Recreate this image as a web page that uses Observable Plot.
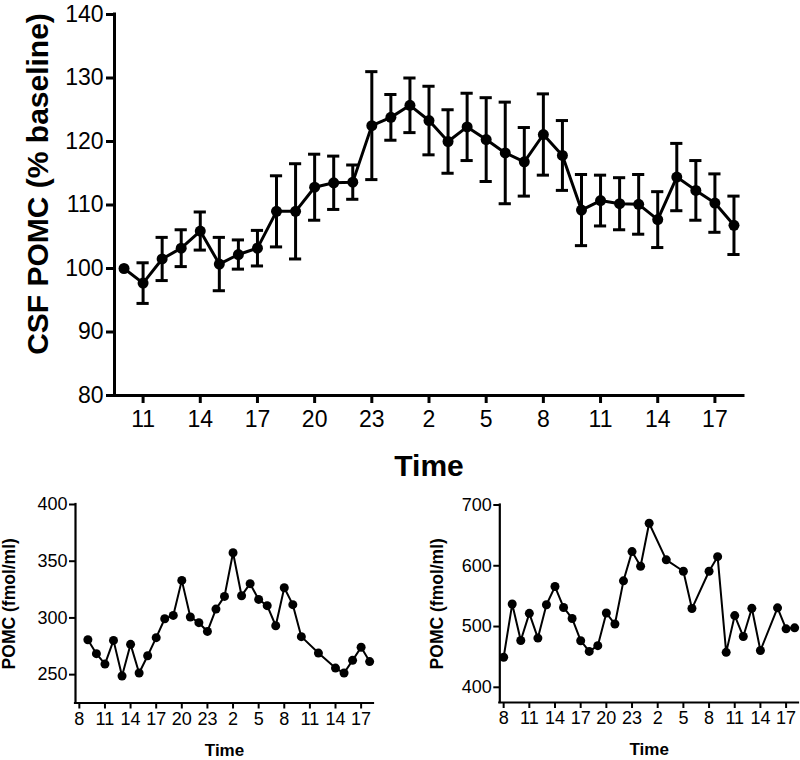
<!DOCTYPE html>
<html>
<head>
<meta charset="utf-8">
<script src="https://cdn.jsdelivr.net/npm/d3@7"></script>
<script src="https://cdn.jsdelivr.net/npm/@observablehq/plot@0.6"></script>
<style>
  html, body { margin: 0; padding: 0; background: #fff; }
  #wrap { position: relative; width: 800px; height: 760px; overflow: hidden; }
  #wrap svg { position: absolute; }
</style>
</head>
<body>
<div id="wrap"></div>
<script>
// ---- Main panel: CSF POMC (% baseline), mean ± error, hourly (10h day 1 .. 18h day 2; hours > 24 are day 2)
const mainHour = [10, 11, 12, 13, 14, 15, 16, 17, 18, 19, 20, 21, 22, 23, 24, 25, 26, 27, 28, 29, 30, 31, 32, 33, 34, 35, 36, 37, 38, 39, 40, 41, 42];
const mainMean = [100.0, 97.7, 101.5, 103.2, 105.9, 100.7, 102.2, 103.2, 109.0, 109.0, 112.8, 113.5, 113.6, 122.5, 123.8, 125.7, 123.3, 120.0, 122.3, 120.3, 118.2, 116.8, 121.1, 117.8, 109.2, 110.7, 110.2, 110.1, 107.7, 114.4, 112.3, 110.3, 106.8];
const mainErr  = [0, 3.2, 3.4, 2.9, 3.0, 4.2, 2.3, 2.8, 5.6, 7.5, 5.2, 4.2, 2.7, 8.5, 3.6, 4.3, 5.4, 5.0, 5.3, 6.6, 8.0, 5.4, 6.4, 5.5, 5.6, 4.0, 4.1, 4.7, 4.4, 5.3, 4.7, 4.6, 4.6];
const mainXTicks = [11, 14, 17, 20, 23, 26, 29, 32, 35, 38, 41];
const mainYTicks = [80, 90, 100, 110, 120, 130, 140];

// ---- Bottom-left panel: individual POMC (fmol/ml)
const leftHour  = [9, 10, 11, 12, 13, 14, 15, 16, 17, 18, 19, 20, 21, 22, 23, 24, 25, 26, 27, 28, 29, 30, 31, 32, 33, 34, 36, 38, 39, 40, 41, 42];
const leftValue = [280.8, 268.5, 259.3, 280.2, 248.8, 276.7, 251.4, 266.7, 282.6, 299.3, 302.2, 333.1, 300.8, 295.8, 288.1, 307.8, 319.0, 357.5, 319.6, 330.2, 316.3, 310.8, 293.1, 326.6, 311.7, 283.5, 269.0, 255.8, 251.4, 262.6, 274.1, 261.5];
const leftYTicks = [250, 300, 350, 400];

// ---- Bottom-right panel: individual POMC (fmol/ml)
const rightHour  = [8, 9, 10, 11, 12, 13, 14, 15, 16, 17, 18, 19, 20, 21, 22, 23, 24, 25, 27, 29, 30, 32, 33, 34, 35, 36, 37, 38, 40, 41, 42];
const rightValue = [449.5, 537.0, 477.0, 521.7, 481.0, 535.8, 565.8, 531.4, 513.3, 476.7, 459.1, 468.5, 522.2, 504.1, 575.2, 623.3, 599.3, 669.9, 609.7, 591.0, 529.6, 591.0, 615.0, 457.5, 518.0, 483.6, 530.0, 460.5, 530.8, 496.2, 497.9];
const rightYTicks = [400, 500, 600, 700];

const smallXTicks = [8, 11, 14, 17, 20, 23, 26, 29, 32, 35, 38, 41];
const hourFmt = d => String(d % 24);

const FONT = "'Liberation Sans', Arial, Helvetica, sans-serif";
const wrap = document.getElementById("wrap");

// ---------- Main panel ----------
const mainData = mainHour.map((h, i) => ({h, v: mainMean[i], e: mainErr[i]}));
const barData = mainData.filter(d => d.e > 0);
const capHalf = 0.32;

const mainPlot = Plot.plot({
  width: 800, height: 480,
  marginLeft: 114, marginRight: 57, marginTop: 14, marginBottom: 85,
  style: {fontFamily: FONT, color: "#000", background: "transparent", overflow: "visible"},
  x: {domain: [9.5, 42.5]},
  y: {domain: [80, 140]},
  marks: [
    Plot.axisX({ticks: mainXTicks, tickFormat: hourFmt, tickSize: 8, tickPadding: 7, fontSize: 23, strokeWidth: 3, label: null}),
    Plot.axisY({ticks: mainYTicks, tickSize: 8, tickPadding: 3, fontSize: 23, strokeWidth: 3, label: null}),
    Plot.ruleY([80], {stroke: "#000", strokeWidth: 3, strokeLinecap: "square"}),
    Plot.ruleX([9.5], {stroke: "#000", strokeWidth: 3, strokeLinecap: "square"}),
    Plot.ruleX(barData, {x: "h", y1: d => d.v - d.e, y2: d => d.v + d.e, stroke: "#000", strokeWidth: 3}),
    Plot.ruleY(barData, {y: d => d.v + d.e, x1: d => d.h - capHalf, x2: d => d.h + capHalf, stroke: "#000", strokeWidth: 3}),
    Plot.ruleY(barData, {y: d => d.v - d.e, x1: d => d.h - capHalf, x2: d => d.h + capHalf, stroke: "#000", strokeWidth: 3}),
    Plot.line(mainData, {x: "h", y: "v", stroke: "#000", strokeWidth: 3}),
    Plot.dot(mainData, {x: "h", y: "v", r: 5.5, fill: "#000"}),
    Plot.text(["CSF POMC (% baseline)"], {frameAnchor: "left", textAnchor: "middle", lineAnchor: "middle", dx: -76, dy: -21, rotate: -90, fontSize: 30, fontWeight: "bold", fill: "#000"}),
    Plot.text(["Time"], {frameAnchor: "bottom", textAnchor: "middle", lineAnchor: "middle", dy: 71, fontSize: 30, fontWeight: "bold", fill: "#000"})
  ]
});
mainPlot.style.left = "0px";
mainPlot.style.top = "0px";
wrap.appendChild(mainPlot);

// ---------- Small panels ----------
function smallPanel(hours, values, yDomain, yTicks, opts) {
  const data = hours.map((h, i) => ({h, v: values[i]}));
  return Plot.plot({
    width: 400, height: 270,
    marginLeft: opts.marginLeft, marginRight: opts.marginRight, marginTop: opts.marginTop, marginBottom: opts.marginBottom,
    style: {fontFamily: FONT, color: "#000", background: "transparent", overflow: "visible"},
    x: {domain: [7.55, 42.45]},
    y: {domain: yDomain},
    marks: [
      Plot.axisX({ticks: smallXTicks, tickFormat: hourFmt, tickSize: 6, tickPadding: 3, fontSize: 18, strokeWidth: 2, label: null}),
      Plot.axisY({ticks: yTicks, tickSize: 6, tickPadding: 2, fontSize: 18, strokeWidth: 2, label: null}),
      Plot.ruleY([yDomain[0]], {stroke: "#000", strokeWidth: 2.2, strokeLinecap: "square"}),
      Plot.ruleX([7.55], {stroke: "#000", strokeWidth: 2.2, strokeLinecap: "square"}),
      Plot.line(data, {x: "h", y: "v", stroke: "#000", strokeWidth: 2}),
      Plot.dot(data, {x: "h", y: "v", r: 4.5, fill: "#000"}),
      Plot.text(["POMC (fmol/ml)"], {frameAnchor: "left", textAnchor: "middle", lineAnchor: "middle", dx: opts.yLabelDx, rotate: -90, fontSize: 17.5, fontWeight: "bold", fill: "#000"}),
      Plot.text(["Time"], {frameAnchor: "bottom", textAnchor: "middle", lineAnchor: "middle", dy: 47.5, fontSize: 17, fontWeight: "bold", fill: "#000"})
    ]
  });
}

const leftPlot = smallPanel(leftHour, leftValue, [225, 400], leftYTicks,
  {marginLeft: 75, marginRight: 27, marginTop: 14, marginBottom: 57.5, yLabelDx: -66});
leftPlot.style.left = "0px";
leftPlot.style.top = "490px";
wrap.appendChild(leftPlot);

const rightPlot = smallPanel(rightHour, rightValue, [375, 700], rightYTicks,
  {marginLeft: 99.3, marginRight: 2, marginTop: 14.5, marginBottom: 58, yLabelDx: -62});
rightPlot.style.left = "400px";
rightPlot.style.top = "490px";
wrap.appendChild(rightPlot);
</script>
</body>
</html>
